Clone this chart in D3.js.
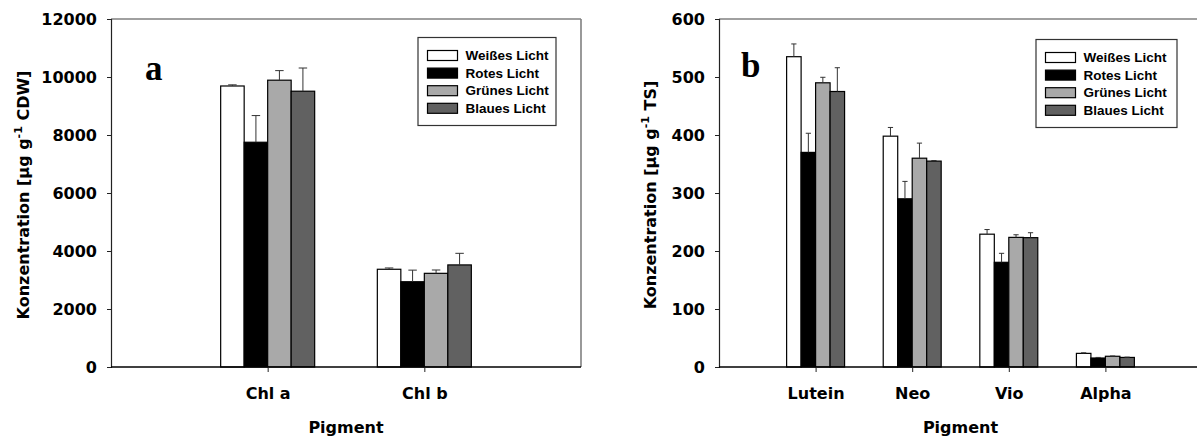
<!DOCTYPE html>
<html>
<head>
<meta charset="utf-8">
<script src="https://cdn.jsdelivr.net/npm/d3@7"></script>
<style>
  body { margin: 0; background: #fff; }
  svg { display: block; }
</style>
</head>
<body>
<div id="chart"></div>
<script>
const series = ['Weißes Licht', 'Rotes Licht', 'Grünes Licht', 'Blaues Licht'];
const colors = ['#ffffff', '#000000', '#a9a9a9', '#616161'];

const pigmentsA = ['Chl a', 'Chl b'];
const valuesA = [
  [9690, 3370],
  [7750, 2940],
  [9890, 3230],
  [9510, 3520],
];
const errorsA = [
  [40, 45],
  [920, 400],
  [330, 115],
  [800, 400],
];
const ticksA = [0, 2000, 4000, 6000, 8000, 10000, 12000];

const pigmentsB = ['Lutein', 'Neo', 'Vio', 'Alpha'];
const valuesB = [
  [535, 398, 229, 23.5],
  [370, 290, 180.5, 15.5],
  [490, 360, 223.5, 18.5],
  [475, 355, 223, 16.5],
];
const errorsB = [
  [22, 15, 8, 1],
  [33, 30, 15.5, 1],
  [9.5, 26, 4.5, 0.5],
  [41, 1, 8.5, 0.5],
];
const ticksB = [0, 100, 200, 300, 400, 500, 600];

const width = 1197;
const height = 439;
const axisFont = '"DejaVu Sans", sans-serif';
const legendFont = '"Liberation Sans", Arial, sans-serif';

const svg = d3
  .select('#chart')
  .append('svg')
  .attr('width', width)
  .attr('height', height);

function drawPanel(cfg) {
  const g = svg.append('g');
  const n = cfg.pigments.length;

  const x = d3.scaleLinear().domain([-1, n]).range([cfg.left, cfg.right]);
  const y = d3.scaleLinear().domain([0, cfg.ticks[cfg.ticks.length - 1]]).range([367, 19]);

  const spacing = x(1) - x(0);
  const inner = d3
    .scaleBand()
    .domain(series)
    .range([-0.3 * spacing, 0.3 * spacing]);
  const bw = inner.bandwidth();
  const capW = bw * 0.36;

  // bars
  series.forEach((s, si) => {
    const sg = g.append('g');
    sg.selectAll('rect')
      .data(cfg.values[si])
      .join('rect')
      .attr('x', (d, i) => x(i) + inner(s))
      .attr('y', (d) => y(d))
      .attr('width', bw)
      .attr('height', (d) => y(0) - y(d))
      .attr('fill', colors[si])
      .attr('stroke', '#000')
      .attr('stroke-width', 1.2);

    // error bars (upper only)
    const eg = sg.selectAll('g.err')
      .data(cfg.values[si].map((v, i) => ({ v, e: cfg.errors[si][i], i })))
      .join('g')
      .attr('class', 'err')
      .attr('stroke', '#333')
      .attr('stroke-width', 1);
    eg.append('line')
      .attr('x1', (d) => x(d.i) + inner(s) + bw / 2)
      .attr('x2', (d) => x(d.i) + inner(s) + bw / 2)
      .attr('y1', (d) => y(d.v))
      .attr('y2', (d) => y(d.v + d.e));
    eg.append('line')
      .attr('x1', (d) => x(d.i) + inner(s) + bw / 2 - capW / 2)
      .attr('x2', (d) => x(d.i) + inner(s) + bw / 2 + capW / 2)
      .attr('y1', (d) => y(d.v + d.e))
      .attr('y2', (d) => y(d.v + d.e));
  });

  // frame
  g.append('line')
    .attr('x1', cfg.left).attr('x2', cfg.right)
    .attr('y1', y.range()[1]).attr('y2', y.range()[1])
    .attr('stroke', '#808080').attr('stroke-width', 1.6);
  g.append('line')
    .attr('x1', cfg.right).attr('x2', cfg.right)
    .attr('y1', y.range()[1]).attr('y2', y(0))
    .attr('stroke', '#808080').attr('stroke-width', 1.6);

  // y axis
  const yAxis = g.append('g')
    .attr('transform', `translate(${cfg.left},0)`)
    .call(d3.axisLeft(y).tickValues(cfg.ticks).tickFormat(d3.format('d')).tickSize(4).tickPadding(10));
  yAxis.select('.domain').attr('stroke', '#222').attr('stroke-width', 1.2);
  yAxis.selectAll('.tick line').attr('stroke', '#222');
  yAxis.selectAll('text')
    .attr('font-family', axisFont)
    .attr('font-weight', 'bold')
    .attr('font-size', 16)
    .attr('fill', '#000');

  // x axis
  const xAxis = g.append('g')
    .attr('transform', `translate(0,${y(0)})`)
    .call(
      d3.axisBottom(x)
        .tickValues(d3.range(n))
        .tickFormat((i) => cfg.pigments[i])
        .tickSize(5)
        .tickPadding(16)
    );
  xAxis.select('.domain').attr('d', `M${cfg.left},0H${cfg.right}`).attr('stroke', '#000').attr('stroke-width', 1.4);
  xAxis.selectAll('.tick line').attr('stroke', '#222');
  xAxis.selectAll('text')
    .attr('font-family', axisFont)
    .attr('font-weight', 'bold')
    .attr('font-size', 16)
    .attr('fill', '#000');

  // axis titles
  g.append('text')
    .attr('x', (cfg.left + cfg.titleRight) / 2)
    .attr('y', 433)
    .attr('text-anchor', 'middle')
    .attr('font-family', axisFont)
    .attr('font-weight', 'bold')
    .attr('font-size', 16)
    .text('Pigment');

  const yt = g.append('text')
    .attr('transform', `translate(${cfg.ylabelX},195) rotate(-90)`)
    .attr('text-anchor', 'middle')
    .attr('dy', '0.36em')
    .attr('font-family', axisFont)
    .attr('font-weight', 'bold')
    .attr('font-size', 16);
  yt.append('tspan').text('Konzentration [µg g');
  yt.append('tspan').attr('font-size', 11).attr('dy', -7).text('-1');
  yt.append('tspan').attr('dy', 7).text(' ' + cfg.unit + ']');

  // panel letter
  g.append('text')
    .attr('x', cfg.letterX)
    .attr('y', cfg.letterY)
    .attr('font-family', '"Liberation Serif", "Times New Roman", serif')
    .attr('font-weight', 'bold')
    .attr('font-size', 35)
    .text(cfg.letter);

  // legend
  const lg = g.append('g').attr('transform', `translate(${cfg.legendX},${cfg.legendY})`);
  lg.append('rect')
    .attr('width', cfg.legendW)
    .attr('height', 88)
    .attr('fill', '#fff')
    .attr('stroke', '#333')
    .attr('stroke-width', 1.2);
  series.forEach((s, i) => {
    const ry = 18 + i * 17.6;
    lg.append('rect')
      .attr('x', 9.5)
      .attr('y', ry - 5)
      .attr('width', 30)
      .attr('height', 10)
      .attr('fill', colors[i])
      .attr('stroke', '#000')
      .attr('stroke-width', 1.2);
    lg.append('text')
      .attr('x', 47.5)
      .attr('y', ry + 4.5)
      .attr('font-family', legendFont)
      .attr('font-weight', 'bold')
      .attr('font-size', 13.5)
      .text(s);
  });
}

drawPanel({
  pigments: pigmentsA,
  values: valuesA,
  errors: errorsA,
  ticks: ticksA,
  unit: 'CDW',
  left: 111,
  right: 581,
  titleRight: 581,
  ylabelX: 23,
  letter: 'a',
  letterX: 145,
  letterY: 80,
  legendX: 418,
  legendY: 37.5,
  legendW: 138,
});

drawPanel({
  pigments: pigmentsB,
  values: valuesB,
  errors: errorsB,
  ticks: ticksB,
  unit: 'TS',
  left: 719,
  right: 1202,
  titleRight: 1202,
  ylabelX: 650,
  letter: 'b',
  letterX: 741,
  letterY: 77,
  legendX: 1036,
  legendY: 39.5,
  legendW: 141,
});
</script>
</body>
</html>
